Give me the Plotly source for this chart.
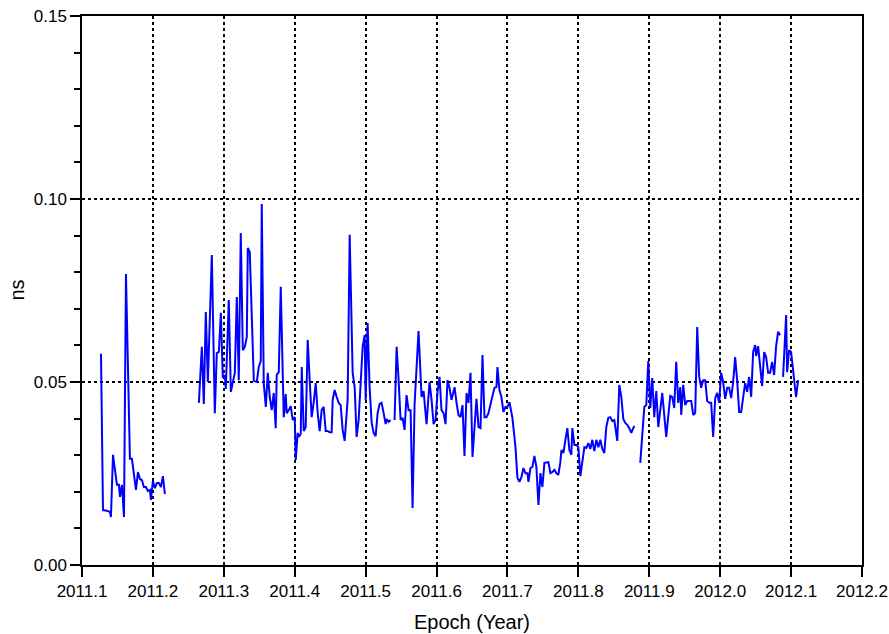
import plotly.graph_objects as go

# Epoch (decimal year) and values (ns); None marks data gaps
epoch = [
    2011.1268, 2011.1296, 2011.1352, 2011.1394, 2011.1408, 2011.1437, 2011.1465, 2011.1493,
    2011.1521, 2011.1535, 2011.1563, 2011.1592, 2011.1620, 2011.1676, 2011.1704, 2011.1732,
    2011.1761, 2011.1789, 2011.1817, 2011.1845, 2011.1873, 2011.1901, 2011.1930, 2011.1958,
    2011.1972, 2011.2000, 2011.2028, 2011.2056, 2011.2085, 2011.2113, 2011.2141, 2011.2169,
    None,
    2011.2648, 2011.2690, 2011.2718, 2011.2746, 2011.2775, 2011.2831, 2011.2873, 2011.2901,
    2011.2930, 2011.2958, 2011.2986, 2011.3014, 2011.3028, 2011.3070, 2011.3099, 2011.3127,
    2011.3155, 2011.3183, 2011.3211, 2011.3239, 2011.3268, 2011.3296, 2011.3324, 2011.3338,
    2011.3366, 2011.3423, 2011.3465, 2011.3493, 2011.3521, 2011.3535, 2011.3563, 2011.3592,
    2011.3620, 2011.3648, 2011.3676, 2011.3704, 2011.3732, 2011.3746, 2011.3775, 2011.3803,
    2011.3845, 2011.3873, 2011.3887, 2011.3915, 2011.3944, 2011.3972, 2011.4000, 2011.4014,
    2011.4042, 2011.4056, 2011.4085, 2011.4099, 2011.4127, 2011.4155, 2011.4183, 2011.4211,
    2011.4239, 2011.4268, 2011.4296, 2011.4324, 2011.4352, 2011.4380, 2011.4408, 2011.4437,
    2011.4465, 2011.4493, 2011.4521, 2011.4535, 2011.4563, 2011.4592, 2011.4620, 2011.4648,
    2011.4676, 2011.4704, 2011.4746, 2011.4775, 2011.4817, 2011.4845, 2011.4873, 2011.4901,
    2011.4930, 2011.4958, 2011.4986, 2011.5000, 2011.5028, 2011.5056, 2011.5085, 2011.5113,
    2011.5141, 2011.5169, 2011.5197, 2011.5225, 2011.5254, 2011.5282, 2011.5296, 2011.5324,
    2011.5352,
    None,
    2011.5408, 2011.5437, 2011.5465, 2011.5493, 2011.5521, 2011.5549, 2011.5577, 2011.5606,
    2011.5634, 2011.5662, 2011.5690, 2011.5746, 2011.5789, 2011.5817, 2011.5859, 2011.5901,
    2011.5930, 2011.5958, 2011.5986, 2011.6014, 2011.6042, 2011.6070, 2011.6099, 2011.6127,
    2011.6155, 2011.6183, 2011.6211, 2011.6254, 2011.6282, 2011.6310, 2011.6338, 2011.6366,
    2011.6394, 2011.6423, 2011.6451, 2011.6479, 2011.6507, 2011.6535, 2011.6563, 2011.6592,
    2011.6620, 2011.6648, 2011.6676, 2011.6704, 2011.6732, 2011.6775, 2011.6817, 2011.6845,
    2011.6859, 2011.6887, 2011.6915, 2011.6944, 2011.6972, 2011.7000, 2011.7028, 2011.7070,
    2011.7113, 2011.7141, 2011.7169, 2011.7197, 2011.7225, 2011.7254, 2011.7282, 2011.7296,
    2011.7324, 2011.7352, 2011.7380, 2011.7408, 2011.7437, 2011.7465, 2011.7493, 2011.7521,
    2011.7549, 2011.7577, 2011.7606, 2011.7634, 2011.7662, 2011.7690, 2011.7718, 2011.7746,
    2011.7761, 2011.7789, 2011.7817, 2011.7845, 2011.7873, 2011.7901, 2011.7915, 2011.7944,
    2011.7972, 2011.8000, 2011.8028, 2011.8056, 2011.8085, 2011.8113, 2011.8141, 2011.8169,
    2011.8197, 2011.8225, 2011.8254, 2011.8282, 2011.8310, 2011.8338, 2011.8366, 2011.8394,
    2011.8423, 2011.8451, 2011.8479, 2011.8507, 2011.8521, 2011.8549, 2011.8577, 2011.8606,
    2011.8634, 2011.8662, 2011.8690, 2011.8718, 2011.8746, 2011.8775, 2011.8789,
    None,
    2011.8873, 2011.8930, 2011.8958, 2011.8986, 2011.9014, 2011.9042, 2011.9070, 2011.9099,
    2011.9127, 2011.9183, 2011.9239, 2011.9296, 2011.9324, 2011.9352, 2011.9380, 2011.9408,
    2011.9437, 2011.9451, 2011.9479, 2011.9507, 2011.9535, 2011.9563, 2011.9592, 2011.9620,
    2011.9648, 2011.9676, 2011.9704, 2011.9732, 2011.9761, 2011.9789, 2011.9817, 2011.9845,
    2011.9873, 2011.9901, 2011.9930, 2011.9958, 2011.9986, 2012.0014, 2012.0042, 2012.0070,
    2012.0099, 2012.0127, 2012.0155, 2012.0183, 2012.0211, 2012.0239, 2012.0268, 2012.0296,
    2012.0324, 2012.0352, 2012.0380, 2012.0408, 2012.0437, 2012.0465, 2012.0493, 2012.0507,
    2012.0535, 2012.0563, 2012.0592, 2012.0620, 2012.0648, 2012.0676, 2012.0704, 2012.0732,
    2012.0761, 2012.0789, 2012.0817, 2012.0845,
    None,
    2012.0887, 2012.0930, 2012.0944, 2012.0972, 2012.1000, 2012.1028, 2012.1070, 2012.1099,
]

values_ns = [
    0.0577, 0.0150, 0.0148, 0.0145, 0.0131, 0.0301, 0.0260, 0.0219,
    0.0219, 0.0186, 0.0219, 0.0131, 0.0795, 0.0290, 0.0290, 0.0240,
    0.0205, 0.0254, 0.0235, 0.0232, 0.0213, 0.0213, 0.0202, 0.0205,
    0.0178, 0.0230, 0.0210, 0.0224, 0.0224, 0.0213, 0.0243, 0.0194,
    None,
    0.0443, 0.0596, 0.0440, 0.0691, 0.0500, 0.0847, 0.0415, 0.0579,
    0.0582, 0.0689, 0.0511, 0.0519, 0.0481, 0.0724, 0.0473, 0.0497,
    0.0525, 0.0732, 0.0505, 0.0907, 0.0587, 0.0596, 0.0623, 0.0866,
    0.0855, 0.0503, 0.0500, 0.0541, 0.0557, 0.0986, 0.0497, 0.0432,
    0.0525, 0.0459, 0.0423, 0.0470, 0.0374, 0.0519, 0.0527, 0.0760,
    0.0404, 0.0467, 0.0415, 0.0423, 0.0434, 0.0396, 0.0404, 0.0287,
    0.0361, 0.0350, 0.0358, 0.0541, 0.0366, 0.0377, 0.0615, 0.0505,
    0.0404, 0.0445, 0.0497, 0.0415, 0.0366, 0.0423, 0.0432, 0.0366,
    0.0366, 0.0363, 0.0363, 0.0451, 0.0478, 0.0459, 0.0443, 0.0437,
    0.0369, 0.0339, 0.0451, 0.0902, 0.0525, 0.0486, 0.0350, 0.0396,
    0.0486, 0.0596, 0.0628, 0.0451, 0.0661, 0.0486, 0.0388, 0.0361,
    0.0352, 0.0415, 0.0440, 0.0443, 0.0415, 0.0385, 0.0399, 0.0391,
    0.0396,
    None,
    0.0396, 0.0596, 0.0505, 0.0396, 0.0402, 0.0369, 0.0464, 0.0423,
    0.0423, 0.0156, 0.0437, 0.0639, 0.0459, 0.0475, 0.0385, 0.0500,
    0.0451, 0.0385, 0.0396, 0.0473, 0.0514, 0.0423, 0.0415, 0.0385,
    0.0505, 0.0484, 0.0451, 0.0486, 0.0443, 0.0410, 0.0404, 0.0437,
    0.0298, 0.0470, 0.0443, 0.0525, 0.0295, 0.0383, 0.0454, 0.0377,
    0.0374, 0.0574, 0.0404, 0.0404, 0.0415, 0.0451, 0.0484, 0.0486,
    0.0541, 0.0478, 0.0459, 0.0418, 0.0432, 0.0432, 0.0445, 0.0402,
    0.0322, 0.0238, 0.0227, 0.0240, 0.0265, 0.0251, 0.0251, 0.0227,
    0.0265, 0.0268, 0.0298, 0.0268, 0.0164, 0.0251, 0.0213, 0.0279,
    0.0279, 0.0281, 0.0251, 0.0254, 0.0260, 0.0251, 0.0246, 0.0281,
    0.0314, 0.0306, 0.0342, 0.0374, 0.0314, 0.0301, 0.0374, 0.0328,
    0.0328, 0.0322, 0.0243, 0.0279, 0.0322, 0.0320, 0.0333, 0.0317,
    0.0342, 0.0311, 0.0342, 0.0322, 0.0342, 0.0317, 0.0306, 0.0377,
    0.0402, 0.0404, 0.0393, 0.0396, 0.0377, 0.0339, 0.0492, 0.0459,
    0.0399, 0.0388, 0.0383, 0.0374, 0.0361, 0.0377, 0.0380,
    None,
    0.0279, 0.0432, 0.0437, 0.0557, 0.0429, 0.0511, 0.0404, 0.0475,
    0.0377, 0.0470, 0.0350, 0.0462, 0.0459, 0.0429, 0.0555, 0.0443,
    0.0486, 0.0410, 0.0492, 0.0437, 0.0448, 0.0448, 0.0448, 0.0410,
    0.0415, 0.0650, 0.0514, 0.0484, 0.0505, 0.0505, 0.0448, 0.0443,
    0.0443, 0.0350, 0.0456, 0.0470, 0.0443, 0.0525, 0.0500, 0.0454,
    0.0484, 0.0484, 0.0456, 0.0500, 0.0568, 0.0505, 0.0418, 0.0418,
    0.0464, 0.0497, 0.0473, 0.0514, 0.0459, 0.0582, 0.0601, 0.0571,
    0.0598, 0.0544, 0.0489, 0.0582, 0.0568, 0.0525, 0.0525, 0.0555,
    0.0519, 0.0598, 0.0637, 0.0628,
    None,
    0.0514, 0.0683, 0.0527, 0.0587, 0.0582, 0.0525, 0.0459, 0.0505,
]

x_ticks = [2011.1, 2011.2, 2011.3, 2011.4, 2011.5, 2011.6, 2011.7, 2011.8, 2011.9, 2012.0, 2012.1, 2012.2]
x_tick_labels = ["2011.1", "2011.2", "2011.3", "2011.4", "2011.5", "2011.6", "2011.7",
                 "2011.8", "2011.9", "2012.0", "2012.1", "2012.2"]
y_ticks = [0.00, 0.05, 0.10, 0.15]
y_tick_labels = ["0.00", "0.05", "0.10", "0.15"]

FONT = "Liberation Sans, Arial, Helvetica, sans-serif"

fig = go.Figure()
fig.add_trace(go.Scatter(
    x=epoch, y=values_ns, mode="lines",
    line=dict(color="#0000ff", width=2),
    connectgaps=False, showlegend=False, hoverinfo="x+y",
))

axis_common = dict(
    showline=True, linecolor="black", linewidth=1.5, mirror=True,
    ticks="outside", ticklen=10, tickwidth=1.5, tickcolor="black",
    showgrid=True, gridcolor="black", gridwidth=1.5, griddash="dot",
    zeroline=False, automargin=False,
    tickfont=dict(family=FONT, size=17, color="black"),
)

fig.update_xaxes(
    range=[2011.1, 2012.2], tickmode="array", tickvals=x_ticks, ticktext=x_tick_labels,
    **axis_common,
)
fig.update_yaxes(
    range=[0, 0.15], tickmode="array", tickvals=y_ticks, ticktext=y_tick_labels,
    minor=dict(dtick=0.01, ticks="outside", ticklen=6, tickwidth=1.5, tickcolor="black", showgrid=False),
    **axis_common,
)

fig.add_annotation(text="Epoch (Year)", xref="paper", yref="paper", x=0.5, y=0,
                   yshift=-57, yanchor="middle", showarrow=False,
                   font=dict(family=FONT, size=20, color="black"))
fig.add_annotation(text="ns", xref="paper", yref="paper", x=0, y=0.5,
                   xshift=-66, xanchor="center", textangle=-90, showarrow=False,
                   font=dict(family=FONT, size=20, color="black"))

fig.update_layout(
    width=889, height=634, autosize=False,
    margin=dict(l=82, r=27, t=16, b=69, autoexpand=False),
    plot_bgcolor="white", paper_bgcolor="white",
)

fig.write_html(
    "out.html",
    config={"displayModeBar": False},
    post_script="document.body.style.margin='0';document.body.style.overflow='hidden';",
)
